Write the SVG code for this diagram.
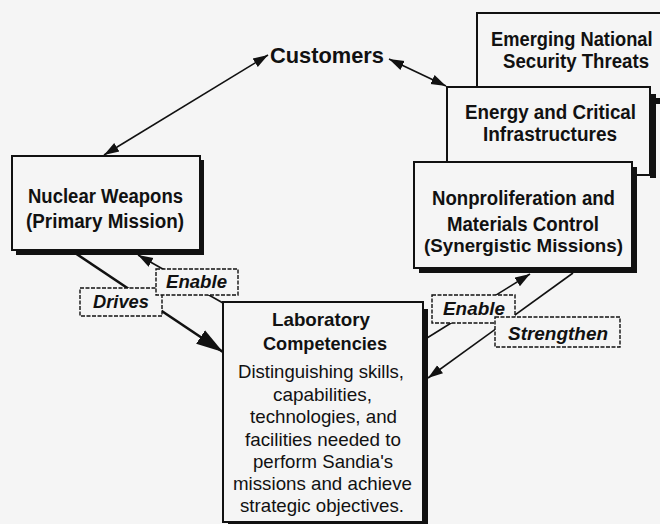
<svg xmlns="http://www.w3.org/2000/svg" width="660" height="524" viewBox="0 0 660 524">
<defs>
<style>
.bg{fill:#f5f5f5}
.box{fill:#f5f5f5;stroke:#111;stroke-width:2}
.sh{fill:#111}
.h{font-family:"Liberation Sans",Arial,sans-serif;font-weight:bold;font-size:20px;fill:#111}
.b{font-family:"Liberation Sans",Arial,sans-serif;font-size:19px;fill:#111}
.lb{fill:#f5f5f5;stroke:#111;stroke-width:1.4;stroke-dasharray:4 1.5}
.lt{font-family:"Liberation Sans",Arial,sans-serif;font-weight:bold;font-style:italic;font-size:18px;fill:#111}
.ln{fill:none;stroke:#111;stroke-width:1.6}
</style>
<marker id="ah" markerUnits="userSpaceOnUse" markerWidth="16" markerHeight="12" refX="15" refY="5" orient="auto-start-reverse" viewBox="0 0 16 10">
<path d="M0,0 L15,5 L0,10 z" fill="#111"/>
</marker>
<marker id="ahb" markerUnits="userSpaceOnUse" markerWidth="28" markerHeight="18" refX="27" refY="8" orient="auto" viewBox="0 0 28 16">
<path d="M0,0 L27,8 L0,16 z" fill="#111"/>
</marker>
</defs>
<rect class="bg" x="0" y="0" width="660" height="524"/>

<g id="emerging">
<rect class="sh" x="650" y="98" width="10" height="6"/>
<path class="box" d="M661,13 L477,13 L477,99 L661,99"/>
<text class="h" transform="translate(491,46) scale(0.915,1)">Emerging National</text>
<text class="h" x="503" y="68" textLength="146" lengthAdjust="spacingAndGlyphs">Security Threats</text>
</g>

<g id="energy">
<rect class="sh" x="650" y="94" width="6" height="84"/>
<rect class="box" x="447" y="87" width="203" height="88"/>
<text class="h" x="465" y="119" textLength="171" lengthAdjust="spacingAndGlyphs">Energy and Critical</text>
<text class="h" x="483" y="141" textLength="134" lengthAdjust="spacingAndGlyphs">Infrastructures</text>
</g>

<g id="nonproliferation">
<rect class="sh" x="419" y="167" width="218" height="106"/>
<rect class="box" x="414" y="162" width="218" height="106"/>
<text class="h" x="432" y="205" textLength="183" lengthAdjust="spacingAndGlyphs">Nonproliferation and</text>
<text class="h" x="447" y="231" textLength="152" lengthAdjust="spacingAndGlyphs">Materials Control</text>
<text class="h" x="424" y="252" textLength="199" lengthAdjust="spacingAndGlyphs" style="font-size:18.5px">(Synergistic Missions)</text>
</g>

<g id="nuclear">
<rect class="sh" x="16" y="160" width="188" height="95"/>
<rect class="box" x="12" y="156" width="188" height="94"/>
<text class="h" x="28" y="203" textLength="155" lengthAdjust="spacingAndGlyphs">Nuclear Weapons</text>
<text class="h" x="26" y="228" textLength="158" lengthAdjust="spacingAndGlyphs">(Primary Mission)</text>
</g>

<g id="customers">
<text class="h" x="270" y="63" textLength="114" lengthAdjust="spacingAndGlyphs" style="font-size:22px">Customers</text>
</g>

<g id="laboratory">
<rect class="sh" x="228" y="309" width="200" height="216"/>
<rect class="box" x="223" y="302" width="200" height="220"/>
<text class="h" x="272" y="326" textLength="98" lengthAdjust="spacingAndGlyphs" style="font-size:19px">Laboratory</text>
<text class="h" x="263" y="350" textLength="124" lengthAdjust="spacingAndGlyphs" style="font-size:19px">Competencies</text>
<text class="b" x="238" y="378" textLength="166" lengthAdjust="spacingAndGlyphs">Distinguishing skills,</text>
<text class="b" x="273" y="401" textLength="99" lengthAdjust="spacingAndGlyphs">capabilities,</text>
<text class="b" x="250" y="423" textLength="147" lengthAdjust="spacingAndGlyphs">technologies, and</text>
<text class="b" x="245" y="446" textLength="156" lengthAdjust="spacingAndGlyphs">facilities needed to</text>
<text class="b" x="253" y="468" textLength="140" lengthAdjust="spacingAndGlyphs">perform Sandia's</text>
<text class="b" x="233" y="490" textLength="179" lengthAdjust="spacingAndGlyphs">missions and achieve</text>
<text class="b" x="240" y="512" textLength="164" lengthAdjust="spacingAndGlyphs">strategic objectives.</text>
</g>

<g id="connectors">
<path class="ln" d="M104,155 L268,55" marker-start="url(#ah)" marker-end="url(#ah)"/>
<path class="ln" d="M389,59 L446,86" marker-start="url(#ah)" marker-end="url(#ah)"/>
<path class="ln" d="M75,253 L223,352" style="stroke-width:2.6" marker-end="url(#ahb)"/>
<path class="ln" d="M223,303 L138,255" marker-end="url(#ah)"/>
<path class="ln" d="M427,338 L530,274" marker-end="url(#ah)"/>
<path class="ln" d="M573,273 L428,378" marker-end="url(#ah)"/>
</g>

<g id="label-drives">
<rect class="lb" x="80" y="288" width="82" height="28"/>
<text class="lt" x="93" y="308" textLength="56" lengthAdjust="spacingAndGlyphs">Drives</text>
</g>
<g id="label-enable-left">
<rect class="lb" x="156" y="269" width="82" height="26"/>
<text class="lt" x="166" y="288" textLength="61" lengthAdjust="spacingAndGlyphs">Enable</text>
</g>
<g id="label-enable-right">
<rect class="lb" x="432" y="295" width="83" height="28"/>
<text class="lt" x="443" y="315" textLength="62" lengthAdjust="spacingAndGlyphs">Enable</text>
</g>
<g id="label-strengthen">
<rect class="lb" x="495" y="317" width="125" height="30"/>
<text class="lt" x="508" y="340" textLength="100" lengthAdjust="spacingAndGlyphs">Strengthen</text>
</g>
</svg>
